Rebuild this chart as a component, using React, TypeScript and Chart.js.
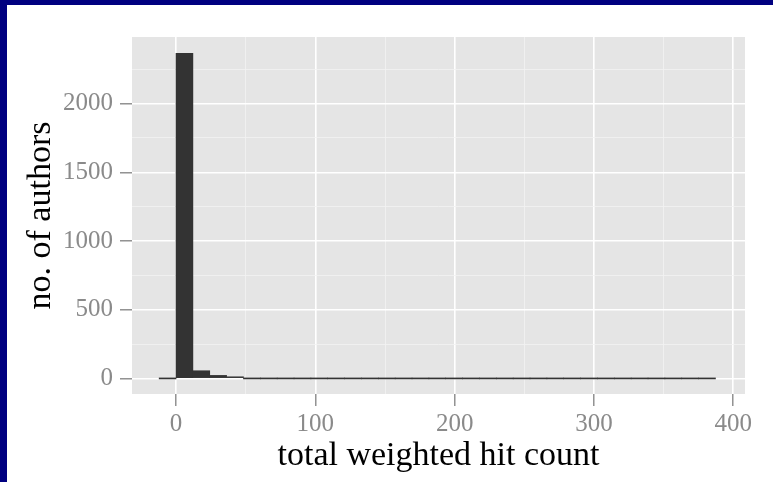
import React, { useEffect, useRef } from "react";
import { Chart, registerables } from "chart.js";

Chart.register(...registerables);

// Histogram bins (centers, bin width ~12.1) and counts
const binCenters = [
  -6.05, 6.05, 18.15, 30.25, 42.35, 54.45, 66.55, 78.65, 90.75, 102.85, 114.95,
  127.05, 139.15, 151.25, 163.35, 175.45, 187.55, 199.65, 211.75, 223.85,
  235.95, 248.05, 260.15, 272.25, 284.35, 296.45, 308.55, 320.65, 332.75,
  344.85, 356.95, 369.05, 381.15,
];
const authorCounts = [
  0, 2365, 56, 22, 12, 0, 0, 0, 0, 0, 0, 0, 0, 0, 0, 0, 0, 0, 0, 0, 0, 0, 0, 0,
  0, 0, 0, 0, 0, 0, 0, 0, 0,
];

const xTickValues = [0, 50, 100, 150, 200, 250, 300, 350, 400];
const xMajorTicks = [0, 100, 200, 300, 400];
const yTickValues = [0, 250, 500, 750, 1000, 1250, 1500, 1750, 2000, 2250];
const yMajorTicks = [0, 500, 1000, 1500, 2000];

const xTitle = "total weighted hit count";
const yTitle = "no. of authors";

const FONT = "'Liberation Serif', 'Times New Roman', serif";

const panelBg = {
  id: "panelBg",
  beforeDraw(chart: any) {
    const { ctx, chartArea: a } = chart;
    ctx.save();
    ctx.fillStyle = "#E5E5E5";
    ctx.fillRect(a.left, a.top, a.right - a.left, a.bottom - a.top);
    ctx.restore();
  },
};

export default function App() {
  const ref = useRef<HTMLCanvasElement | null>(null);

  useEffect(() => {
    if (!ref.current) return;
    const isMajor = (list: number[]) => (c: any) =>
      c && c.tick && list.includes(c.tick.value);
    const xMaj = isMajor(xMajorTicks);
    const yMaj = isMajor(yMajorTicks);

    const chart = new Chart(ref.current, {
      type: "bar",
      data: {
        datasets: [
          {
            data: binCenters.map((x, i) => ({ x, y: authorCounts[i] })),
            backgroundColor: "#333333",
            borderWidth: 0,
            barPercentage: 1,
            categoryPercentage: 1,
            minBarLength: 1,
          } as any,
        ],
      },
      options: {
        animation: false,
        responsive: false,
        devicePixelRatio: 1,
        layout: { padding: { left: 0, right: 28, top: 32, bottom: 0 } },
        plugins: {
          legend: { display: false },
          tooltip: { enabled: false },
        },
        scales: {
          x: {
            type: "linear",
            min: -31.6,
            max: 408.4,
            offset: false,
            afterBuildTicks: (s: any) => {
              s.ticks = xTickValues.map((v) => ({ value: v }));
            },
            afterFit: (s: any) => {
              s.height = 88;
            },
            border: { display: false },
            grid: {
              offset: false,
              color: (c: any) => (xMaj(c) ? "#FFFFFF" : "#F2F2F2"),
              lineWidth: (c: any) => (xMaj(c) ? 1.6 : 0.8),
              drawTicks: true,
              tickLength: 12,
              tickColor: (c: any) => (xMaj(c) ? "#808080" : "rgba(0,0,0,0)"),
              tickWidth: 1.3,
            },
            ticks: {
              autoSkip: false,
              maxRotation: 0,
              padding: 6,
              color: "#8a8a8a",
              font: { family: FONT, size: 25, lineHeight: 1 },
              callback: (v: any) =>
                xMajorTicks.includes(Number(v)) ? String(v) : "",
            },
            title: {
              display: true,
              text: xTitle,
              color: "#000000",
              font: { family: FONT, size: 34, lineHeight: 1.2 },
              padding: { top: 0, bottom: 6 },
            },
          },
          y: {
            type: "linear",
            min: -113.3,
            max: 2484.6,
            afterBuildTicks: (s: any) => {
              s.ticks = yTickValues.map((v) => ({ value: v }));
            },
            afterFit: (s: any) => {
              s.width = 125;
            },
            border: { display: false },
            grid: {
              offset: false,
              color: (c: any) => (yMaj(c) ? "#FFFFFF" : "#F2F2F2"),
              lineWidth: (c: any) => (yMaj(c) ? 1.6 : 0.8),
              drawTicks: true,
              tickLength: 12,
              tickColor: (c: any) => (yMaj(c) ? "#808080" : "rgba(0,0,0,0)"),
              tickWidth: 1.3,
            },
            ticks: {
              autoSkip: false,
              padding: 7,
              color: "#8a8a8a",
              font: { family: FONT, size: 25, lineHeight: 1 },
              callback: (v: any) =>
                yMajorTicks.includes(Number(v)) ? String(v) : "",
            },
            title: {
              display: true,
              text: yTitle,
              color: "#000000",
              font: { family: FONT, size: 34, lineHeight: 1.2 },
              padding: { top: 14, bottom: 0 },
            },
          },
        },
      },
      plugins: [panelBg],
    });
    return () => chart.destroy();
  }, []);

  return (
    <div
      style={{
        position: "absolute",
        left: 0,
        top: 0,
        width: 773,
        height: 482,
        boxSizing: "border-box",
        background: "#ffffff",
        borderTop: "5px solid #000080",
        borderLeft: "7px solid #000080",
      }}
    >
      <canvas
        ref={ref}
        width={766}
        height={477}
        style={{ display: "block", width: 766, height: 477 }}
      />
    </div>
  );
}
